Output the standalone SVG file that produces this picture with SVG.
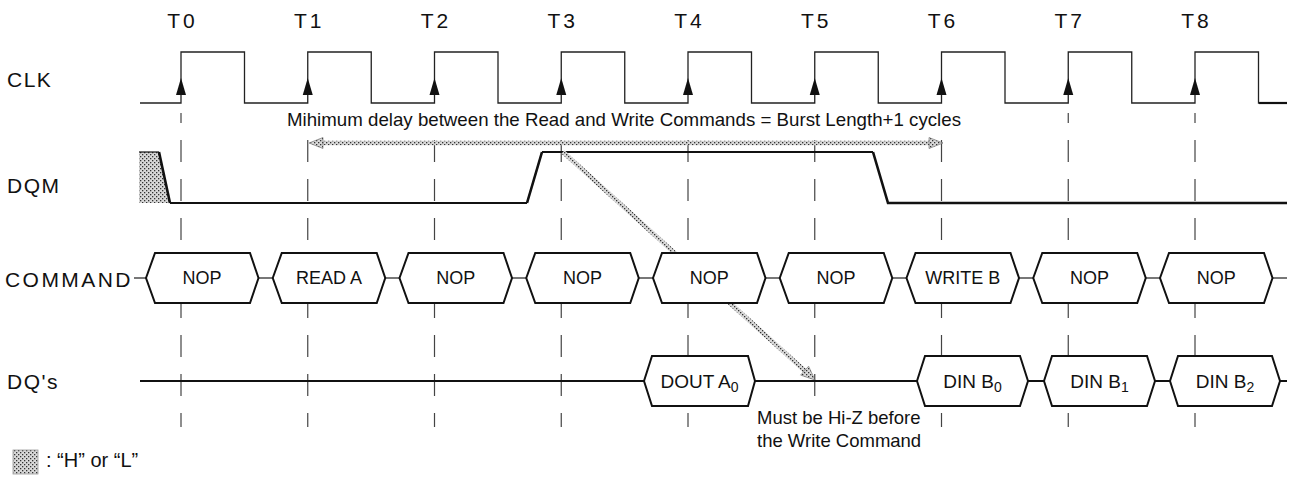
<svg xmlns="http://www.w3.org/2000/svg" width="1292" height="479" viewBox="0 0 1292 479">
<style>
text{font-family:"Liberation Sans",Arial,sans-serif;fill:#111}
.lbl{font-size:21px;letter-spacing:1.5px}
.tl{font-size:21px;text-anchor:middle;letter-spacing:3px}
.bt{font-size:18px;text-anchor:middle}
.dt{font-size:19px;text-anchor:middle}
.sub{font-size:14px}
.note{font-size:18.5px}
.clk{fill:none;stroke:#222;stroke-width:1.3}
.dash{fill:none;stroke:#444;stroke-width:1.2;stroke-dasharray:22 17;stroke-dashoffset:12}
.box{fill:#fff;stroke:#111;stroke-width:2;stroke-linejoin:miter}
.bus{fill:none;stroke:#777;stroke-width:2}
.dq{fill:none;stroke:#111;stroke-width:1.8}
.sig{fill:none;stroke:#111;stroke-width:1.8}
.edge{fill:none;stroke:#111;stroke-width:2.6}
.harr{fill:none;stroke:url(#hatch);stroke-width:4.5}
.hhead{fill:url(#hatch);stroke:#666;stroke-width:0.6}
</style>
<defs>
<pattern id="hatch" width="4" height="4" patternUnits="userSpaceOnUse">
<rect width="4" height="4" fill="#d8d8d8"/>
<rect x="0" y="0" width="1.3" height="1.3" fill="#333"/>
<rect x="2" y="2" width="1.3" height="1.3" fill="#333"/>
</pattern>
</defs>

<g id="time-labels">
<text class="tl" x="182.5" y="28">T0</text>
<text class="tl" x="309.25" y="28">T1</text>
<text class="tl" x="436" y="28">T2</text>
<text class="tl" x="562.75" y="28">T3</text>
<text class="tl" x="689.5" y="28">T4</text>
<text class="tl" x="816.25" y="28">T5</text>
<text class="tl" x="943" y="28">T6</text>
<text class="tl" x="1069.75" y="28">T7</text>
<text class="tl" x="1196.5" y="28">T8</text>
</g>

<g id="signal-labels">
<text class="lbl" x="7" y="87">CLK</text>
<text class="lbl" x="7" y="193">DQM</text>
<text class="lbl" x="5" y="287" textLength="127" lengthAdjust="spacing">COMMAND</text>
<text class="lbl" x="7" y="389">DQ's</text>
</g>

<g id="guides">
<path class="dash" d="M181,113V427M307.75,113V427M434.5,113V427M561.25,113V427M688,113V427M814.75,113V427M941.5,113V427M1068.25,113V427M1195,113V427"/>
</g>

<g id="clk">
<path class="clk" d="M140,103H181V52H244.5V103H307.75V52H371.25V103H434.5V52H498V103H561.25V52H624.75V103H688V52H751.5V103H814.75V52H878.25V103H941.5V52H1005V103H1068.25V52H1131.75V103H1195V52H1258.5V103H1287"/>
<path d="M1259,103H1287" stroke="#111" stroke-width="2.2"/>
<g fill="#111">
<polygon points="181,78 176,95 186,95"/>
<polygon points="307.75,78 302.75,95 312.75,95"/>
<polygon points="434.5,78 429.5,95 439.5,95"/>
<polygon points="561.25,78 556.25,95 566.25,95"/>
<polygon points="688,78 683,95 693,95"/>
<polygon points="814.75,78 809.75,95 819.75,95"/>
<polygon points="941.5,78 936.5,95 946.5,95"/>
<polygon points="1068.25,78 1063.25,95 1073.25,95"/>
<polygon points="1195,78 1190,95 1200,95"/>
</g>
</g>

<g id="dqm">
<polygon points="139,152 159,152 170,203 139,203" fill="url(#hatch)"/>
<path d="M139,152H159" stroke="#111" stroke-width="1.2"/>
<path class="edge" d="M159,152L170,203"/>
<path class="sig" d="M170,203H527"/>
<path class="edge" d="M527,203L542,152"/>
<path class="sig" d="M542,152H873"/>
<path class="edge" d="M873,152L888,203H1287"/>
</g>

<g id="connectors">
<g id="min-delay">
<rect x="284" y="108" width="680" height="24" fill="#fff"/>
<path class="harr" d="M321,143H931"/>
<polygon class="hhead" points="309,143 323,137.5 323,148.5"/>
<polygon class="hhead" points="943,143 929,137.5 929,148.5"/>
<text class="note" style="font-size:19px" x="287" y="126" textLength="674" lengthAdjust="spacingAndGlyphs">Mihimum delay between the Read and Write Commands = Burst Length+1 cycles</text>
</g>
<g id="hiz-arrow">
<path class="harr" d="M563,152L805,371"/>
<polygon class="hhead" points="815,380 800.6,375.1 808.6,366.2"/>
</g>
</g>

<g id="command-bus">
<path class="bus" d="M134,278H1287"/>
</g>
<g id="cmd0"><path class="box" d="M146,278L155,253H250L258.5,278L250,303H155Z"/><text class="bt" x="202" y="284">NOP</text></g>
<g id="cmd1"><path class="box" d="M272.75,278L281.75,253H376.75L385.25,278L376.75,303H281.75Z"/><text class="bt" x="329" y="284">READ A</text></g>
<g id="cmd2"><path class="box" d="M399.5,278L408.5,253H503.5L512,278L503.5,303H408.5Z"/><text class="bt" x="455.75" y="284">NOP</text></g>
<g id="cmd3"><path class="box" d="M526.25,278L535.25,253H630.25L638.75,278L630.25,303H535.25Z"/><text class="bt" x="582.5" y="284">NOP</text></g>
<g id="cmd4"><path class="box" d="M653,278L662,253H757L765.5,278L757,303H662Z"/><text class="bt" x="709.25" y="284">NOP</text></g>
<g id="cmd5"><path class="box" d="M779.75,278L788.75,253H883.75L892.25,278L883.75,303H788.75Z"/><text class="bt" x="836" y="284">NOP</text></g>
<g id="cmd6"><path class="box" d="M906.5,278L915.5,253H1010.5L1019,278L1010.5,303H915.5Z"/><text class="bt" x="962.75" y="284">WRITE B</text></g>
<g id="cmd7"><path class="box" d="M1033.25,278L1042.25,253H1137.25L1145.75,278L1137.25,303H1042.25Z"/><text class="bt" x="1089.5" y="284">NOP</text></g>
<g id="cmd8"><path class="box" d="M1160,278L1169,253H1264L1272.5,278L1264,303H1169Z"/><text class="bt" x="1216.25" y="284">NOP</text></g>

<g id="dq-line">
<path class="dq" d="M140,381H1287"/>
</g>
<g id="dout-a0"><path class="box" d="M644,381L652,356H748L755,381L748,406H652Z"/><text class="dt" x="699.5" y="388">DOUT A<tspan class="sub" dy="3.5">0</tspan></text></g>
<g id="din-b0"><path class="box" d="M917,381L925,356H1020L1028,381L1020,406H925Z"/><text class="dt" x="972.5" y="388">DIN B<tspan class="sub" dy="3.5">0</tspan></text></g>
<g id="din-b1"><path class="box" d="M1044,381L1052,356H1147L1155,381L1147,406H1052Z"/><text class="dt" x="1099.5" y="388">DIN B<tspan class="sub" dy="3.5">1</tspan></text></g>
<g id="din-b2"><path class="box" d="M1170,381L1178,356H1272L1280,381L1272,406H1178Z"/><text class="dt" x="1225" y="388">DIN B<tspan class="sub" dy="3.5">2</tspan></text></g>

<g id="hiz-note">
<rect x="754" y="408" width="170" height="44" fill="#fff"/>
<text class="note" x="757" y="424">Must be Hi-Z before</text>
<text class="note" x="757" y="447">the Write Command</text>
</g>

<g id="legend">
<rect x="13" y="450" width="25" height="24" fill="url(#hatch)" stroke="#999" stroke-width="0.8"/>
<text class="note" style="font-size:20px" x="46" y="467">: “H” or “L”</text>
</g>
</svg>
